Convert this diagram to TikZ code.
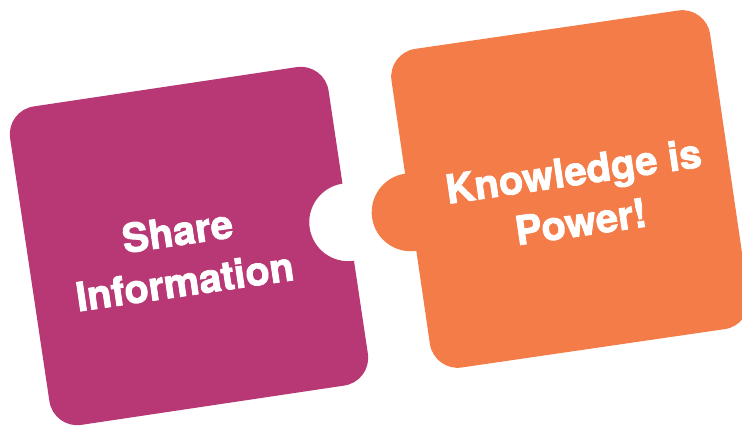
\documentclass[tikz,border=0pt]{standalone}
\usepackage{fontspec}
\setmainfont{TeX Gyre Heros}[BoldFeatures={FakeBold=2}]
\definecolor{shareclr}{RGB}{183,56,116}
\definecolor{powerclr}{RGB}{243,124,72}

\begin{document}
\begin{tikzpicture}[x=1pt,y=1pt]
    \tikzstyle{words}=[text=white, align=center, font=\fontsize{40}{51}\selectfont\bfseries, inner sep=0pt, rotate=8.3]

    \clip (0,0) rectangle (742,428);

    % left piece, notch on its right side
    \begin{scope}[shift={(189,182)}, rotate=8.5]
        \fill[shareclr] (-133,-161) -- (133,-161) arc[start angle=-90, end angle=0, radius=28]
            -- (161,-39) arc[start angle=-90, end angle=-270, radius=39]
            -- (161,133) arc[start angle=0, end angle=90, radius=28]
            -- (-133,161) arc[start angle=90, end angle=180, radius=28]
            -- (-161,-133) arc[start angle=180, end angle=270, radius=28] -- cycle;
    \end{scope}

    % right piece, tab on its left side
    \begin{scope}[shift={(570,239)}, rotate=8.3]
        \fill[powerclr] (-133,-161) -- (133,-161) arc[start angle=-90, end angle=0, radius=28]
            -- (161,133) arc[start angle=0, end angle=90, radius=28]
            -- (-133,161) arc[start angle=90, end angle=180, radius=28]
            -- (-161,39) arc[start angle=90, end angle=270, radius=39]
            -- (-161,-133) arc[start angle=180, end angle=270, radius=28] -- cycle;
    \end{scope}

    \node[words] (share) at (181,172) {Share\\Information};
    \node[words] (power) at (577,232) {Knowledge is\\Power!};
\end{tikzpicture}
\end{document}
